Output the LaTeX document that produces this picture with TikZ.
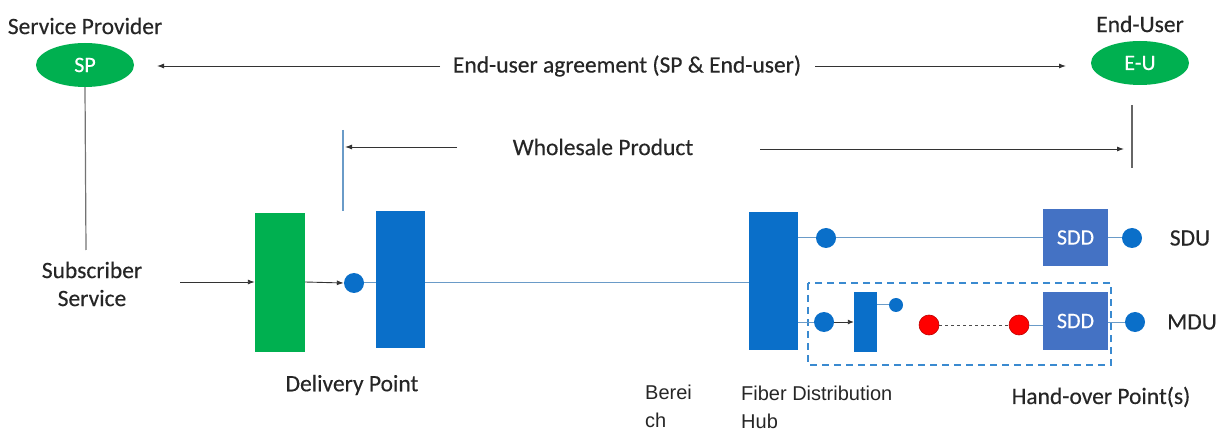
\documentclass[tikz,border=0pt]{standalone}
\usepackage{fontspec}
\setmainfont{Carlito}[FakeBold=0.35]
\newfontfamily\arialfont{Liberation Sans}
\usetikzlibrary{arrows.meta,shapes.geometric}
\definecolor{pgreen}{HTML}{00B050}
\definecolor{pblue}{HTML}{0A6FC9}
\definecolor{sddblue}{HTML}{4472C4}
\definecolor{lineblue}{HTML}{6A9BC8}
\definecolor{dashblue}{HTML}{3A8AD0}
\definecolor{txt}{HTML}{262626}
\tikzset{
  lbl/.style={font=\fontsize{23.5}{28}\selectfont, text=txt, inner sep=0pt},
  albl/.style={font=\arialfont\fontsize{20}{28}\selectfont, text=txt, inner sep=0pt, align=left},
  party/.style={ellipse, fill=pgreen, minimum width=98pt, minimum height=44pt, inner sep=0pt,
    text=white, font=\fontsize{22}{24}\selectfont},
  conn/.style={draw=black!80, line width=0.9pt},
  arr/.style={conn, -{Latex[length=7pt,width=5pt]}},
  fib/.style={draw=lineblue, line width=1pt},
  dot/.style={circle, fill=pblue, minimum size=20pt, inner sep=0pt},
  sdot/.style={circle, fill=pblue, minimum size=14pt, inner sep=0pt},
  rdot/.style={circle, fill=red, draw=red!75!black, line width=0.6pt, minimum size=20pt, inner sep=0pt},
  sdd/.style={rectangle, fill=sddblue, text=white, minimum width=65pt, minimum height=57pt,
    inner sep=0pt, font=\fontsize{22}{24}\selectfont},
}
\begin{document}
\begin{tikzpicture}[x=1pt,y=-1pt]
\useasboundingbox (0,0) rectangle (1226,430);

% parties
\node[lbl] (sptitle) at (85,26) {Service Provider};
\node[party] (sp) at (85,65) {SP};
\node[lbl] (eutitle) at (1140,24) {End-User};
\node[party] (eu) at (1140,63) {E-U};

% end-user agreement
\node[lbl] (agree) at (627,66) {End-user agreement (SP \& End-user)};
\coordinate (agL) at (157,66);
\coordinate (agR) at (1066,66);
\draw[arr] (440,66) coordinate (agLs) -- (agL);
\draw[arr] (815,66) coordinate (agRs) -- (agR);

% service provider link
\node[lbl, align=center] (subs) at (92,284) {Subscriber\\Service};
\coordinate (spBot) at (86,250);
\draw[draw=black!55, line width=1.2pt] (sp.south) -- (spBot);

% wholesale product
\node[lbl] (whole) at (603,147) {Wholesale Product};
\coordinate (wpT) at (343,130);
\coordinate (wpB) at (343,211);
\draw[draw=lineblue, line width=1.3pt] (wpT) -- (wpB);
\coordinate (wpL) at (345,147);
\draw[arr] (457,147) -- (wpL);
\coordinate (euT) at (1132,105);
\coordinate (euB) at (1132,168);
\draw[draw=black!60, line width=1.2pt] (euT) -- (euB);
\coordinate (wpR) at (1124,149);
\draw[arr] (760,149) -- (wpR);

% delivery chain
\node[fill=pgreen, minimum width=50pt, minimum height=139pt, inner sep=0pt] (green) at (280,282.5) {};
\node[fill=pblue, minimum width=49pt, minimum height=137pt, inner sep=0pt] (dp) at (400.5,279.5) {};
\node[fill=pblue, minimum width=49pt, minimum height=138pt, inner sep=0pt] (fdh) at (773.5,281) {};
\node[dot] (dpdot) at (354,283) {};
\coordinate (in) at (180,282);
\draw[arr] (in) -- (green.west |- in);
\draw[arr] (green.east |- in) -- (dpdot.west);
\draw[fib] (dpdot.east) -- (dp.west |- dpdot);
\draw[fib] (dp.east |- dpdot) -- (fdh.west |- dpdot);

% single dwelling unit
\node[dot] (sdu1) at (826,238) {};
\node[sdd] (sddA) at (1075.5,237.5) {SDD};
\node[dot] (sdu2) at (1132,238) {};
\node[lbl] (sdul) at (1190,238) {SDU};
\draw[fib] (fdh.east |- sdu1) -- (sdu1);
\draw[fib] (sdu1) -- (sddA.west |- sdu1);
\draw[fib] (sddA.east |- sdu2) -- (sdu2);

% multi dwelling unit
\draw[dashblue, line width=1.8pt, dash pattern=on 7pt off 5pt] (808,283) rectangle (1111,365);
\node[dot] (mdu1) at (824,322) {};
\node[fill=pblue, minimum width=23pt, minimum height=60pt, inner sep=0pt] (split) at (865.5,322) {};
\node[sdot] (mdus) at (896,305) {};
\node[rdot] (r1) at (929,325) {};
\node[rdot] (r2) at (1019,325) {};
\node[sdd] (sddB) at (1075.5,321) {SDD};
\node[dot] (mdu2) at (1135,322) {};
\node[lbl] (mdul) at (1192,322) {MDU};
\draw[fib] (fdh.east |- mdu1) -- (mdu1);
\draw[conn, -{Latex[length=6pt,width=5pt]}] (mdu1.east) -- (split.west |- mdu1);
\draw[fib] (split.east |- mdus) -- (mdus);
\draw[black!70, line width=1pt, dash pattern=on 3pt off 3pt] (r1) -- (r2);
\draw[fib] (r2) -- (sddB.west |- r2);
\draw[fib] (sddB.east |- mdu2) -- (mdu2);

% captions
\node[lbl] (dpl) at (352,385) {Delivery Point};
\node[albl, anchor=base west] (ber) at (645,427) {Berei\\ch};
\node[albl, anchor=base west] (fdhl) at (741,428) {Fiber Distribution\\Hub};
\node[lbl] (hop) at (1101,397) {Hand-over Point(s)};
\end{tikzpicture}
\end{document}
